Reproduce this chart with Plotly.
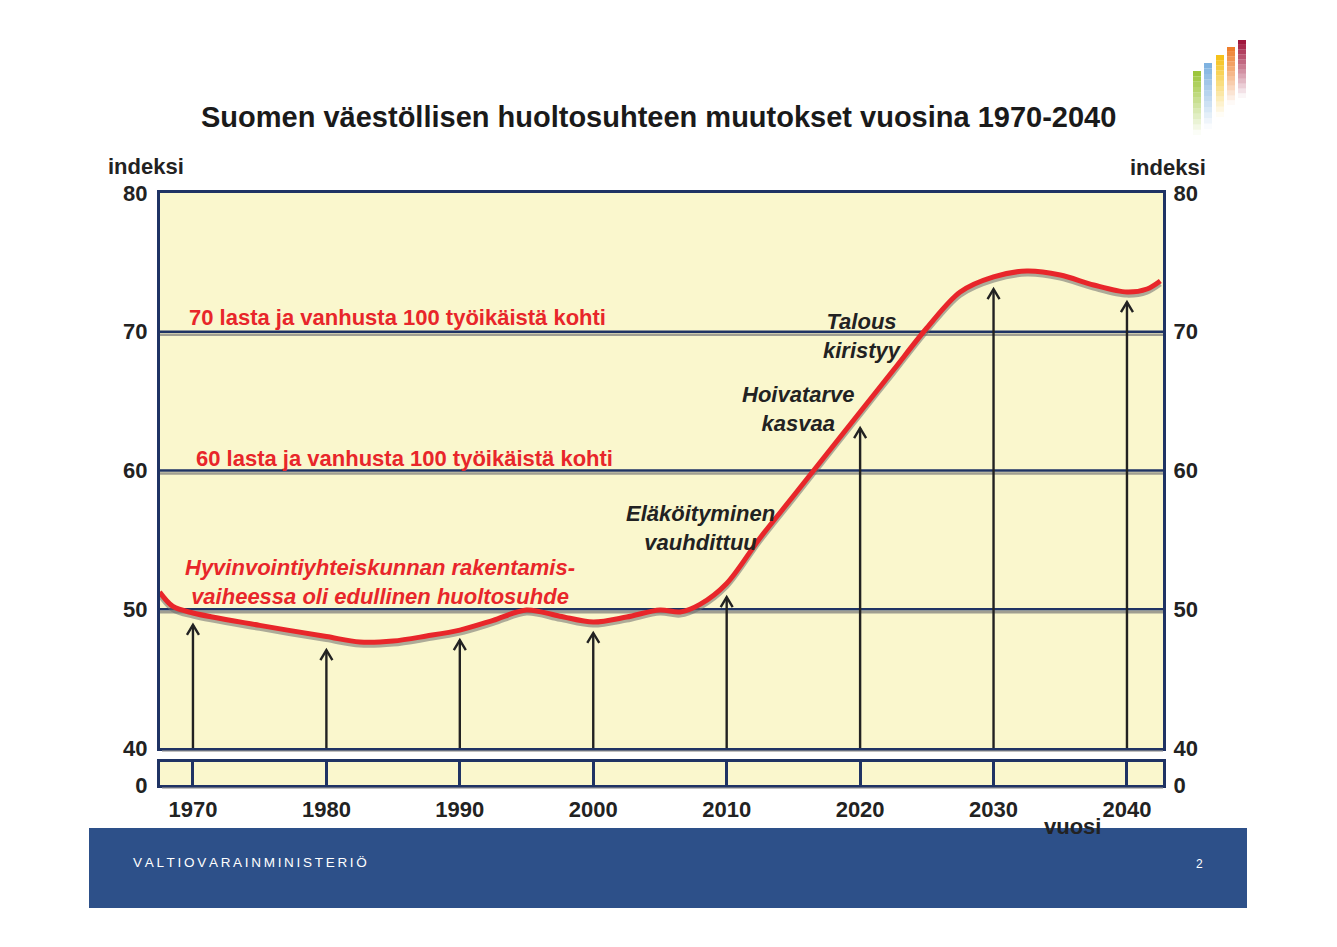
import plotly.graph_objects as go

# ---------------- data ----------------
curve_years = [1967.5, 1968.5, 1970.0, 1975.0, 1980.0, 1982.5, 1985.0, 1987.5, 1990.0,
               1992.5, 1995.0, 1997.5, 2000.0, 2002.5, 2005.0, 2006.5, 2008.0, 2010.0,
               2012.5, 2015.0, 2017.5, 2020.0, 2022.5, 2025.0, 2027.5, 2030.0, 2032.5,
               2035.0, 2037.5, 2040.0, 2041.5, 2042.5]
curve_index = [51.24, 50.20, 49.73, 48.84, 48.03, 47.64, 47.71, 48.07, 48.50,
               49.20, 49.95, 49.50, 49.08, 49.44, 49.95, 49.80, 50.35, 51.86,
               55.14, 58.16, 61.19, 64.22, 67.24, 70.27, 72.86, 73.95, 74.38,
               74.09, 73.37, 72.86, 73.08, 73.66]

arrow_years = [1970, 1980, 1990, 2000, 2010, 2020, 2030, 2040]
arrow_tips = [48.87, 47.06, 47.78, 48.29, 50.88, 63.06, 73.08, 72.14]

y_ticks = [40, 50, 60, 70, 80]
ref_lines = [50, 60, 70]
x_range = [1967.53, 2042.70]
y_range = [40, 80]

title = "Suomen väestöllisen huoltosuhteen muutokset vuosina 1970-2040"

# ---------------- styling ----------------
OFF = 8  # default page body margin
W, H = 1321, 931
ML = 160 - OFF
MT = 193 - OFF
MR = OFF + W - 1163
MB = OFF + H - 785
PW = W - ML - MR
PH = H - MT - MB
NAVY = "#1f3364"
RED = "#e8262a"
YELLOW = "#faf7cd"
FONT = "Liberation Sans, Arial, sans-serif"


def px(x):
    return (x - OFF - ML) / PW


def py(y):
    return (OFF + H - MB - y) / PH


fig = go.Figure()

# curve shadow + curve
fig.add_trace(go.Scatter(x=curve_years, y=[v - 0.22 for v in curve_index], mode="lines",
                         line=dict(color="rgba(110,110,110,0.55)", width=5, shape="spline", smoothing=0.9),
                         hoverinfo="skip", showlegend=False, xaxis="x", yaxis="y"))
fig.add_trace(go.Scatter(x=curve_years, y=curve_index, mode="lines",
                         line=dict(color=RED, width=5, shape="spline", smoothing=0.9),
                         showlegend=False, xaxis="x", yaxis="y"))

# arrows
ax_x, ax_y = [], []
span_x = x_range[1] - x_range[0]
span_y = y_range[1] - y_range[0]
main_h = PH - 37
dx = 6.0 / PW * span_x
dy = 10.0 / main_h * span_y
for yr, tip in zip(arrow_years, arrow_tips):
    ax_x += [yr, yr, None, yr - dx, yr, yr + dx, None]
    ax_y += [y_range[0], tip, None, tip - dy, tip, tip - dy, None]
fig.add_trace(go.Scatter(x=ax_x, y=ax_y, mode="lines",
                         line=dict(color="#222222", width=2.4),
                         hoverinfo="skip", showlegend=False, xaxis="x", yaxis="y"))

# dummy traces for right-side axes / strip
fig.add_trace(go.Scatter(x=[x_range[0]], y=[60], mode="markers", marker=dict(opacity=0),
                         hoverinfo="skip", showlegend=False, xaxis="x", yaxis="y3"))
fig.add_trace(go.Scatter(x=[x_range[0]], y=[0.5], mode="markers", marker=dict(opacity=0),
                         hoverinfo="skip", showlegend=False, xaxis="x2", yaxis="y4"))
fig.add_trace(go.Scatter(x=[x_range[0]], y=[0.5], mode="markers", marker=dict(opacity=0),
                         hoverinfo="skip", showlegend=False, xaxis="x2", yaxis="y2"))

shapes = []
# reference lines with shadow
for v in ref_lines:
    shapes.append(dict(type="line", xref="x domain", yref="y", x0=0, x1=1, y0=v - 0.22, y1=v - 0.22,
                       line=dict(color="rgba(120,120,120,0.7)", width=2.5), layer="below"))
    shapes.append(dict(type="line", xref="x domain", yref="y", x0=0, x1=1, y0=v, y1=v,
                       line=dict(color=NAVY, width=2.5), layer="below"))

# frame shadows
for yy in [751, 788]:
    shapes.append(dict(type="line", xref="paper", yref="paper", x0=px(162), x1=px(1163),
                       y0=py(yy), y1=py(yy), line=dict(color="rgba(150,150,150,0.6)", width=2)))

# bottom banner
shapes.append(dict(type="rect", xref="paper", yref="paper", x0=px(89), x1=px(1247),
                   y0=py(908), y1=py(828), fillcolor="#2d5089", line=dict(width=0)))

# logo bars with fading
bars = [(1193, 71, "#9dc63b", 64), (1204, 63, "#7fb2e0", 66), (1216, 55, "#f5c21b", 62),
        (1227, 47, "#ee7f2d", 58), (1238, 40, "#a0173d", 58)]
nseg = 12
for x0, top, col, length in bars:
    seg = length / nseg
    for i in range(nseg):
        shapes.append(dict(type="rect", xref="paper", yref="paper",
                           x0=px(x0), x1=px(x0 + 8),
                           y0=py(top + (i + 1) * seg), y1=py(top + i * seg),
                           fillcolor=col, opacity=max(0.04, 1 - i / nseg * 1.05),
                           line=dict(width=0)))

annotations = []


def add_text(text, x, y, size=22, color="#222222", xanchor="center", yanchor="middle", align="center"):
    annotations.append(dict(text=text, x=px(x), y=py(y), xref="paper", yref="paper",
                            showarrow=False, xanchor=xanchor, yanchor=yanchor, align=align,
                            font=dict(family=FONT, size=size, color=color)))


add_text("<b>" + title + "</b>", 658, 117, size=29, color="#1a1a1a")
add_text("<b>indeksi</b>", 146, 166, size=22)
add_text("<b>indeksi</b>", 1168, 167, size=22)
add_text("<b>70 lasta ja vanhusta 100 työikäistä kohti</b>", 187, 317, size=22, color=RED, xanchor="left")
add_text("<b>60 lasta ja vanhusta 100 työikäistä kohti</b>", 194, 458, size=22, color=RED, xanchor="left")
add_text("<b><i>Hyvinvointiyhteiskunnan rakentamis-<br>vaiheessa oli edullinen huoltosuhde</i></b>",
         380, 582, size=22, color=RED)
add_text("<b><i>Eläköityminen<br>vauhdittuu</i></b>", 700, 528, size=22)
add_text("<b><i>Hoivatarve<br>kasvaa</i></b>", 798, 409, size=22)
add_text("<b><i>Talous<br>kiristyy</i></b>", 862, 336, size=22)
add_text("<b>vuosi</b>", 1072, 826, size=22)
add_text("\u2009".join("VALTIOVARAINMINISTERIÖ"), 131, 862, size=13.5, color="white", xanchor="left")
add_text("2", 1199, 864, size=12, color="white")

tickfont = dict(family=FONT, size=22, color="#222222")
common_axis = dict(showline=True, mirror=True, linecolor=NAVY, linewidth=3, zeroline=False)

fig.update_layout(
    width=W, height=H, autosize=False,
    margin=dict(l=ML, r=MR, t=MT, b=MB, pad=0),
    paper_bgcolor="white", plot_bgcolor=YELLOW,
    showlegend=False,
    xaxis=dict(domain=[0, 1], range=x_range, anchor="y", showticklabels=False, showgrid=False,
               ticks="", **common_axis),
    yaxis=dict(domain=[37 / PH, 1], range=y_range, anchor="x", tickvals=y_ticks,
               ticktext=[f"<b>{t}</b>" for t in y_ticks], tickfont=tickfont, showgrid=False,
               ticks="outside", ticklen=5, tickcolor="rgba(0,0,0,0)", **common_axis),
    yaxis3=dict(overlaying="y", side="right", range=y_range, anchor="x", tickvals=y_ticks,
                ticktext=[f"<b>{t}</b>" for t in y_ticks], tickfont=tickfont, showgrid=False,
                ticks="outside", ticklen=5, tickcolor="rgba(0,0,0,0)", showline=False, zeroline=False),
    xaxis2=dict(domain=[0, 1], range=x_range, anchor="y2", tickvals=arrow_years,
                ticktext=[f"<b>{t}</b>" for t in arrow_years], tickfont=tickfont,
                showgrid=True, gridcolor=NAVY, gridwidth=2.5,
                ticks="outside", ticklen=3, tickcolor="rgba(0,0,0,0)", **common_axis),
    yaxis2=dict(domain=[0, 23 / PH], range=[0, 1], anchor="x2", tickvals=[0],
                ticktext=["<b>0</b>"], tickfont=tickfont, showgrid=False,
                ticks="outside", ticklen=5, tickcolor="rgba(0,0,0,0)", **common_axis),
    yaxis4=dict(overlaying="y2", side="right", range=[0, 1], anchor="x2", tickvals=[0],
                ticktext=["<b>0</b>"], tickfont=tickfont, showgrid=False,
                ticks="outside", ticklen=5, tickcolor="rgba(0,0,0,0)", showline=False, zeroline=False),
    shapes=shapes,
    annotations=annotations,
)

fig.write_html("out.html")
